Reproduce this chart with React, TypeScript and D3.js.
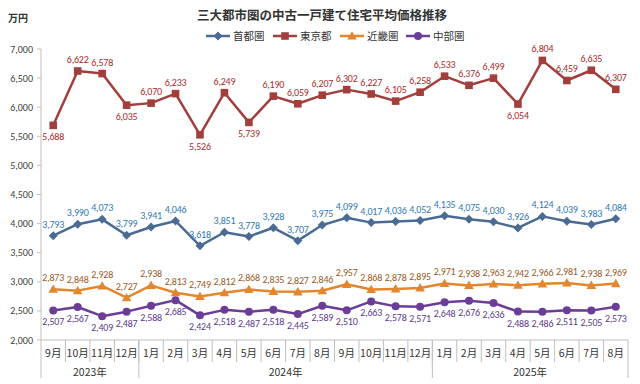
import React from "react";
import * as d3 from "d3";

const months = [
  "9月", "10月", "11月", "12月",
  "1月", "2月", "3月", "4月", "5月", "6月", "7月", "8月", "9月", "10月", "11月", "12月",
  "1月", "2月", "3月", "4月", "5月", "6月", "7月", "8月",
];
const years = [
  { label: "2023年", count: 4 },
  { label: "2024年", count: 12 },
  { label: "2025年", count: 8 },
];
const yTicks = [2000, 2500, 3000, 3500, 4000, 4500, 5000, 5500, 6000, 6500, 7000];

const shuto = [3793, 3990, 4073, 3799, 3941, 4046, 3618, 3851, 3778, 3928, 3707, 3975, 4099, 4017, 4036, 4052, 4135, 4075, 4030, 3926, 4124, 4039, 3983, 4084];
const tokyo = [5688, 6622, 6578, 6035, 6070, 6233, 5526, 6249, 5739, 6190, 6059, 6207, 6302, 6227, 6105, 6258, 6533, 6376, 6499, 6054, 6804, 6459, 6635, 6307];
const kinki = [2873, 2848, 2928, 2727, 2938, 2813, 2749, 2812, 2868, 2835, 2827, 2846, 2957, 2868, 2878, 2895, 2971, 2938, 2963, 2942, 2966, 2981, 2938, 2969];
const chubu = [2507, 2567, 2409, 2487, 2588, 2685, 2424, 2518, 2487, 2518, 2445, 2589, 2510, 2663, 2578, 2571, 2648, 2676, 2636, 2488, 2486, 2511, 2505, 2573];
// label below the point for these tokyo indices
const tokyoBelow = [0, 3, 6, 8, 19];

const series = [
  { name: "首都圏", values: shuto, line: "#4A6B94", label: "#2F78B4", marker: "diamond", below: [] as number[] },
  { name: "東京都", values: tokyo, line: "#A23F3D", label: "#A82A2A", marker: "square", below: tokyoBelow },
  { name: "近畿圏", values: kinki, line: "#E3862E", label: "#9A5A1C", marker: "triangle", below: [] as number[] },
  { name: "中部圏", values: chubu, line: "#6B3D97", label: "#5C3A8C", marker: "circle", below: d3.range(24) },
];

const font = "'Noto Sans CJK JP', 'Noto Sans', sans-serif";
const numFont = "Carlito, Lato, 'Liberation Sans', sans-serif";
const left = 41;
const right = 628;
const axisY = 340;

const Marker = ({ type, x, y, color }: { type: string; x: number; y: number; color: string }) => {
  if (type === "diamond") {
    return <path d={`M${x},${y - 4.5}L${x + 4.5},${y}L${x},${y + 4.5}L${x - 4.5},${y}Z`} fill={color} />;
  }
  if (type === "square") {
    return <rect x={x - 3.8} y={y - 3.8} width={7.6} height={7.6} fill={color} />;
  }
  if (type === "triangle") {
    return <path d={`M${x},${y - 4.8}L${x + 4.8},${y + 3.6}L${x - 4.8},${y + 3.6}Z`} fill={color} />;
  }
  return <circle cx={x} cy={y} r={4} fill={color} />;
};

const App = () => {
  const x = d3.scaleBand<number>().domain(d3.range(months.length)).range([left, right]);
  const y = d3.scaleLinear().domain([2000, 7000]).range([axisY, 49]);
  const fmt = d3.format(",");
  const line = d3
    .line<number>()
    .x((_, i) => x(i)! + x.bandwidth() / 2)
    .y((d) => y(d));

  let acc = 0;
  const groups = years.map((g) => {
    const start = acc;
    acc += g.count;
    return { ...g, x0: x(start)!, x1: start + g.count < months.length ? x(start + g.count)! : right };
  });

  const legendX = [206, 273, 340, 406];

  return (
    <svg width={640} height={384} style={{ position: "absolute", left: 0, top: 0 }} fontFamily={font}>
      <rect width={640} height={384} fill="#fff" />
      <text x={322} y={20} textAnchor="middle" fontSize={12.5} fontWeight="bold" fill="#333">
        三大都市圏の中古一戸建て住宅平均価格推移
      </text>
      <text x={8} y={22} fontSize={10} fontWeight="bold" fill="#333">万円</text>

      {series.map((s, i) => (
        <g key={s.name} transform={`translate(${legendX[i]},36)`}>
          <line x1={0} x2={24} y1={0} y2={0} stroke={s.line} strokeWidth={2.5} />
          <Marker type={s.marker} x={12} y={0} color={s.line} />
          <text x={27} y={4} fontSize={10.5} fill="#333">{s.name}</text>
        </g>
      ))}

      {/* y axis */}
      <line x1={left} x2={left} y1={y(7000)} y2={378} stroke="#BFBFBF" />
      {yTicks.map((t) => (
        <g key={t}>
          <line x1={left - 4} x2={left} y1={y(t)} y2={y(t)} stroke="#BFBFBF" />
          <text x={33} y={y(t) + 3.5} textAnchor="end" fontSize={10} fontFamily={numFont} fill="#404040">{fmt(t)}</text>
        </g>
      ))}

      {/* x axis */}
      <line x1={left} x2={right} y1={axisY} y2={axisY} stroke="#BFBFBF" />
      {months.map((m, i) => (
        <g key={i}>
          {i > 0 && <line x1={x(i)!} x2={x(i)!} y1={axisY} y2={362} stroke="#BFBFBF" />}
          <text x={x(i)! + x.bandwidth() / 2} y={357} textAnchor="middle" fontSize={10.5} fill="#333">{m}</text>
        </g>
      ))}
      {groups.map((g) => (
        <g key={g.label}>
          <line x1={g.x1} x2={g.x1} y1={axisY} y2={378} stroke="#BFBFBF" />
          <text x={(g.x0 + g.x1) / 2} y={376} textAnchor="middle" fontSize={10.5} fill="#333">{g.label}</text>
        </g>
      ))}

      {series.map((s) => (
        <g key={s.name}>
          <path d={line(s.values)!} fill="none" stroke={s.line} strokeWidth={2.5} strokeLinejoin="round" />
          {s.values.map((v, i) => (
            <Marker key={i} type={s.marker} x={x(i)! + x.bandwidth() / 2} y={y(v)} color={s.line} />
          ))}
          {s.values.map((v, i) => {
            const below = s.below.includes(i);
            return (
              <text
                key={"l" + i}
                x={x(i)! + x.bandwidth() / 2}
                y={y(v) + (below ? 15 : -8)}
                textAnchor="middle"
                fontSize={10}
                fontFamily={numFont}
                letterSpacing={-0.2}
                fill={s.label}
              >
                {fmt(v)}
              </text>
            );
          })}
        </g>
      ))}
    </svg>
  );
};

export default App;
